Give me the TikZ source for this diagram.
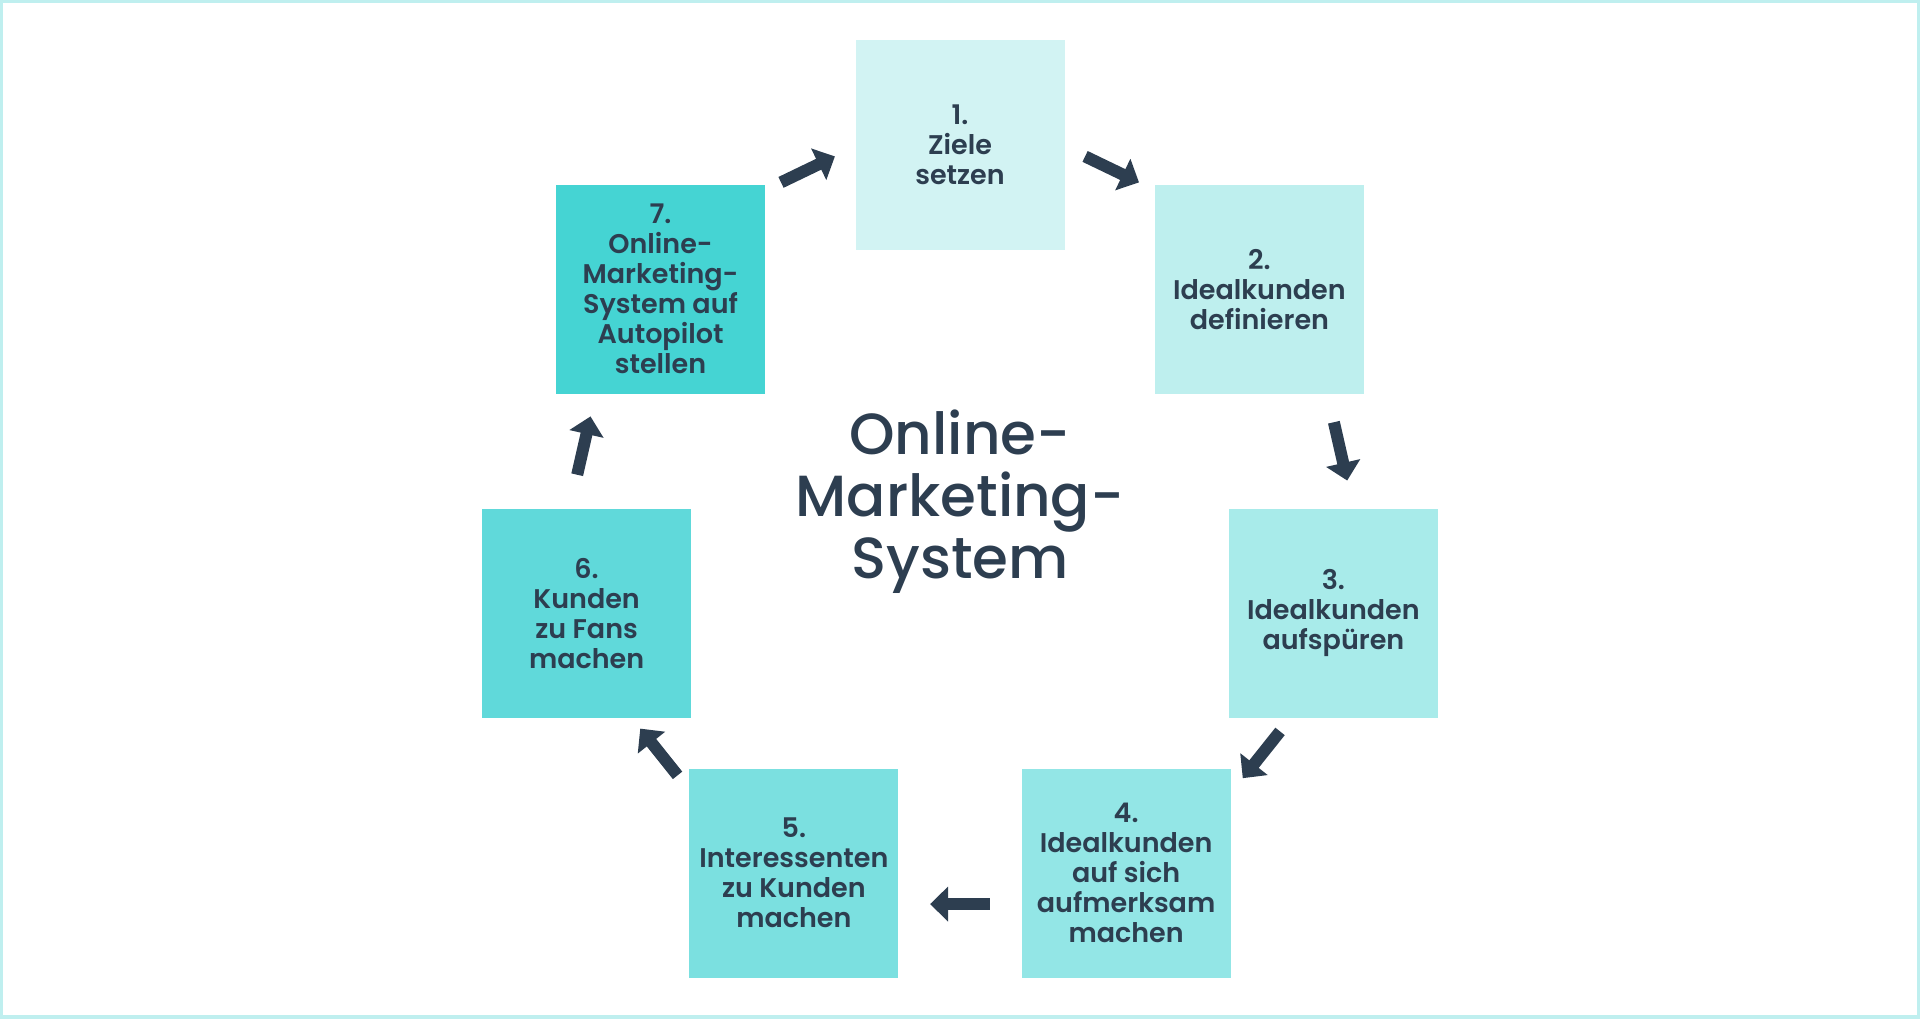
\documentclass[tikz,border=0pt]{standalone}
\usepackage{fontspec}
\setmainfont{Poppins Medium}
\newfontfamily\boxfont{Poppins SemiBold}
\usetikzlibrary{arrows.meta}
\usetikzlibrary{calc}
\definecolor{ink}{HTML}{2D3E50}
\definecolor{rim}{HTML}{BFEFEF}
\definecolor{stepA}{HTML}{D2F3F3}
\definecolor{stepB}{HTML}{BEEFEE}
\definecolor{stepC}{HTML}{A8EBEA}
\definecolor{stepD}{HTML}{93E6E6}
\definecolor{stepE}{HTML}{7BE0E0}
\definecolor{stepF}{HTML}{60D9DA}
\definecolor{stepG}{HTML}{45D4D3}

\begin{document}
\begin{tikzpicture}[x=0.5pt,y=0.5pt,
      box node/.style={minimum size=104.5pt,inner sep=0pt,align=center,
        text=ink,font=\boxfont\fontsize{13.5pt}{15pt}\selectfont},
      flow/.style={draw=ink,line width=6pt,-{Triangle[length=9pt,width=17pt]}}]
    \useasboundingbox (-960,-490) rectangle (960,528);
    \draw[rim,line width=1.75pt] (-959,-489) rectangle (959,527);
    % the seven steps, clockwise from the top
    \node[box node,fill=stepA] (b1) at (90:383)      {1.\\Ziele\\setzen};
    \node[box node,fill=stepB] (b2) at (38.57:383)   {2.\\Idealkunden\\definieren};
    \node[box node,fill=stepC] (b3) at (-12.86:383)  {3.\\Idealkunden\\aufspüren};
    \node[box node,fill=stepD] (b4) at (-64.29:383)  {4.\\Idealkunden\\auf sich\\aufmerksam\\machen};
    \node[box node,fill=stepE] (b5) at (-115.71:383) {5.\\Interessenten\\zu Kunden\\machen};
    \node[box node,fill=stepF] (b6) at (-167.14:383) {6.\\Kunden\\zu Fans\\machen};
    \node[box node,fill=stepG] (b7) at (141.43:383)  {7.\\Online-\\Marketing-\\System auf\\Autopilot\\stellen};
    \node[text=ink,align=center,font=\fontsize{29pt}{31pt}\selectfont] (title) at (0,26)
      {Online-\\Marketing-\\System};
    % arrows sit just outside the chord between two steps
    \draw[flow] ($(b1)!0.354!(b2)!22pt!90:(b2)$) -- ($(b1)!0.534!(b2)!22pt!90:(b2)$);
    \draw[flow] ($(b2)!0.44!(b3)!21.5pt!90:(b3)$) -- ($(b2)!0.62!(b3)!21.5pt!90:(b3)$);
    \draw[flow] ($(b3)!0.378!(b4)!16pt!90:(b4)$) -- ($(b3)!0.558!(b4)!16pt!90:(b4)$);
    \draw[flow] ($(b4)!0.41!(b5)!15.5pt!90:(b5)$) -- ($(b4)!0.59!(b5)!15.5pt!90:(b5)$);
    \draw[flow] ($(b5)!0.448!(b6)!15pt!90:(b6)$) -- ($(b5)!0.628!(b6)!15pt!90:(b6)$);
    \draw[flow] ($(b6)!0.40!(b7)!20pt!90:(b7)$) -- ($(b6)!0.58!(b7)!20pt!90:(b7)$);
    \draw[flow] ($(b7)!0.466!(b1)!22pt!90:(b1)$) -- ($(b7)!0.646!(b1)!22pt!90:(b1)$);
\end{tikzpicture}
\end{document}
